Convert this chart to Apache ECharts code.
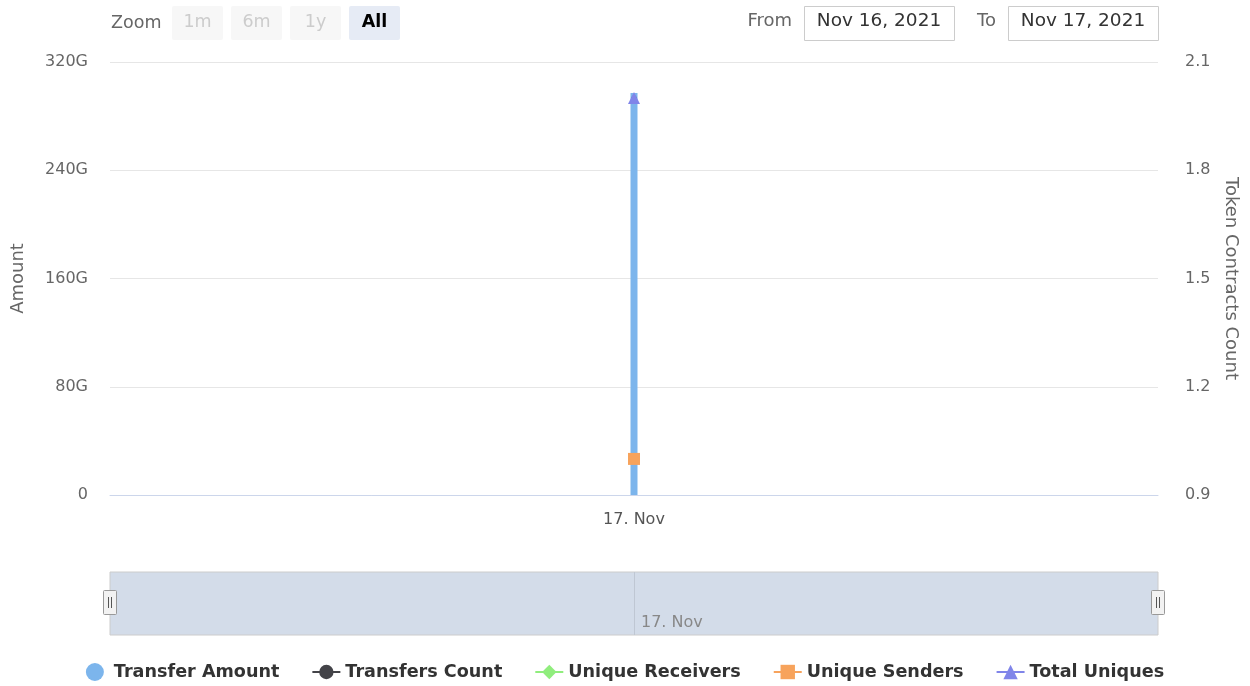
<!DOCTYPE html>
<html>
<head>
<meta charset="utf-8">
<script src="https://cdn.jsdelivr.net/npm/echarts@6/dist/echarts.min.js"></script>
<style>html,body{margin:0;padding:0;background:#fff;}#c{width:1250px;height:686px;}</style>
</head>
<body>
<div id="c"></div>
<script>
var categories = ['17. Nov'];
var transferAmount = [297e9];
var transfersCount = [2];
var uniqueReceivers = [1];
var uniqueSenders = [1];
var totalUniques = [2];
var amountTicks = { min: 0, max: 320e9, interval: 80e9 };
var countTicks = { min: 0.9, max: 2.1, interval: 0.3 };
var zoomButtons = ['1m', '6m', '1y', 'All'];
var fromDate = 'Nov 16, 2021';
var toDate = 'Nov 17, 2021';

var FONT = '"DejaVu Sans", "Lucida Grande", sans-serif';
var chart = echarts.init(document.getElementById('c'));

var graphics = [];
graphics.push({ type: 'text', x: 111, y: 23, style: { text: 'Zoom', font: '17.5px ' + FONT, fill: '#666', verticalAlign: 'middle' } });
zoomButtons.forEach(function (b, i) {
  var x = 172 + i * 59;
  var active = b === 'All';
  graphics.push({ type: 'rect', shape: { x: x, y: 6, width: 51, height: 34, r: 2 }, style: { fill: active ? '#e6ebf5' : '#f7f7f7' } });
  graphics.push({ type: 'text', x: x + 25.5, y: 22, style: { text: b, font: (active ? 'bold ' : '') + '17.5px ' + FONT, fill: active ? '#000' : '#cccccc', align: 'center', verticalAlign: 'middle' } });
});
graphics.push({ type: 'text', x: 792, y: 21, style: { text: 'From', font: '18px ' + FONT, fill: '#666', align: 'right', verticalAlign: 'middle' } });
graphics.push({ type: 'rect', shape: { x: 804.5, y: 6.5, width: 150, height: 34 }, style: { fill: '#fff', stroke: '#cccccc', lineWidth: 1 } });
graphics.push({ type: 'text', x: 879, y: 21, style: { text: fromDate, font: '18.5px ' + FONT, fill: '#333', align: 'center', verticalAlign: 'middle' } });
graphics.push({ type: 'text', x: 996, y: 21, style: { text: 'To', font: '18px ' + FONT, fill: '#666', align: 'right', verticalAlign: 'middle' } });
graphics.push({ type: 'rect', shape: { x: 1008.5, y: 6.5, width: 150, height: 34 }, style: { fill: '#fff', stroke: '#cccccc', lineWidth: 1 } });
graphics.push({ type: 'text', x: 1083, y: 21, style: { text: toDate, font: '18.5px ' + FONT, fill: '#333', align: 'center', verticalAlign: 'middle' } });
[110, 1158].forEach(function (cx) {
  graphics.push({ type: 'rect', shape: { x: cx - 6.5, y: 590.5, width: 13, height: 24, r: 1 }, style: { fill: '#f2f2f2', stroke: '#999', lineWidth: 1 }, z: 100 });
  graphics.push({ type: 'line', shape: { x1: cx - 1.5, y1: 597, x2: cx - 1.5, y2: 608 }, style: { stroke: '#555', lineWidth: 1 }, z: 101 });
  graphics.push({ type: 'line', shape: { x1: cx + 1.5, y1: 597, x2: cx + 1.5, y2: 608 }, style: { stroke: '#555', lineWidth: 1 }, z: 101 });
});

var option = {
  animation: false,
  textStyle: { fontFamily: FONT },
  graphic: graphics,
  grid: [
    { left: 110, right: 92, top: 62, height: 433, containLabel: false },
    { left: 110, right: 92, top: 572, height: 63, show: true, backgroundColor: '#d3dce9', borderColor: '#cccccc', borderWidth: 1 }
  ],
  legend: {
    top: 663, left: 'center', padding: 0,
    itemWidth: 28, itemHeight: 18, itemGap: 32,
    textStyle: { fontSize: 17.6, fontWeight: 'bold', color: '#333', fontFamily: FONT },
    data: [
      { name: 'Transfer Amount', icon: 'circle' },
      { name: 'Transfers Count' },
      { name: 'Unique Receivers' },
      { name: 'Unique Senders' },
      { name: 'Total Uniques' }
    ]
  },
  xAxis: [
    {
      type: 'category', gridIndex: 0, data: categories,
      axisLine: { lineStyle: { color: '#ccd6eb' } },
      axisTick: { alignWithLabel: true, length: 10, lineStyle: { color: '#ccd6eb' } },
      axisLabel: { color: '#555', fontSize: 16, margin: 17 }
    },
    {
      type: 'category', gridIndex: 1, data: categories,
      axisLine: { show: false },
      axisTick: { show: false },
      splitLine: { show: true, alignWithLabel: true, lineStyle: { color: '#bfc7d3' } },
      axisLabel: { inside: true, align: 'left', color: '#888', fontSize: 16, margin: 4, padding: [0, 0, 0, 7] }
    }
  ],
  yAxis: [
    {
      type: 'value', gridIndex: 0, min: amountTicks.min, max: amountTicks.max, interval: amountTicks.interval,
      name: 'Amount', nameLocation: 'middle', nameGap: 83, nameRotate: 90,
      nameTextStyle: { color: '#666', fontSize: 18 },
      axisLine: { show: false }, axisTick: { show: false },
      splitLine: { lineStyle: { color: '#e6e6e6' } },
      axisLabel: { color: '#666', fontSize: 16, margin: 22, formatter: function (v) { return v === 0 ? '0' : (v / 1e9) + 'G'; } }
    },
    {
      type: 'value', gridIndex: 0, position: 'right', min: countTicks.min, max: countTicks.max, interval: countTicks.interval,
      name: 'Token Contracts Count', nameLocation: 'middle', nameGap: 64, nameRotate: -90,
      nameTextStyle: { color: '#666', fontSize: 18 },
      axisLine: { show: false }, axisTick: { show: false },
      splitLine: { show: false },
      axisLabel: { color: '#666', fontSize: 16, margin: 27, formatter: function (v) { return v.toFixed(1); } }
    },
    { type: 'value', gridIndex: 1, show: false }
  ],
  series: [
    { name: 'Transfer Amount', type: 'bar', xAxisIndex: 0, yAxisIndex: 0, data: transferAmount, barWidth: 7, itemStyle: { color: '#7cb5ec' }, z: 2 },
    { name: 'Transfers Count', type: 'line', xAxisIndex: 0, yAxisIndex: 1, data: transfersCount, symbol: 'circle', symbolSize: 5, itemStyle: { color: '#434348' }, lineStyle: { color: '#434348', width: 2 }, z: 3 },
    { name: 'Unique Receivers', type: 'line', xAxisIndex: 0, yAxisIndex: 1, data: uniqueReceivers, symbol: 'diamond', symbolSize: 6, itemStyle: { color: '#90ed7d' }, lineStyle: { color: '#90ed7d', width: 2 }, z: 3 },
    { name: 'Unique Senders', type: 'line', xAxisIndex: 0, yAxisIndex: 1, data: uniqueSenders, symbol: 'rect', symbolSize: 12, itemStyle: { color: '#f7a35c' }, lineStyle: { color: '#f7a35c', width: 2 }, z: 4 },
    { name: 'Total Uniques', type: 'line', xAxisIndex: 0, yAxisIndex: 1, data: totalUniques, symbol: 'triangle', symbolSize: 12, itemStyle: { color: '#8085e9' }, lineStyle: { color: '#8085e9', width: 2 }, z: 4 }
  ]
};
chart.setOption(option);
</script>
</body>
</html>
